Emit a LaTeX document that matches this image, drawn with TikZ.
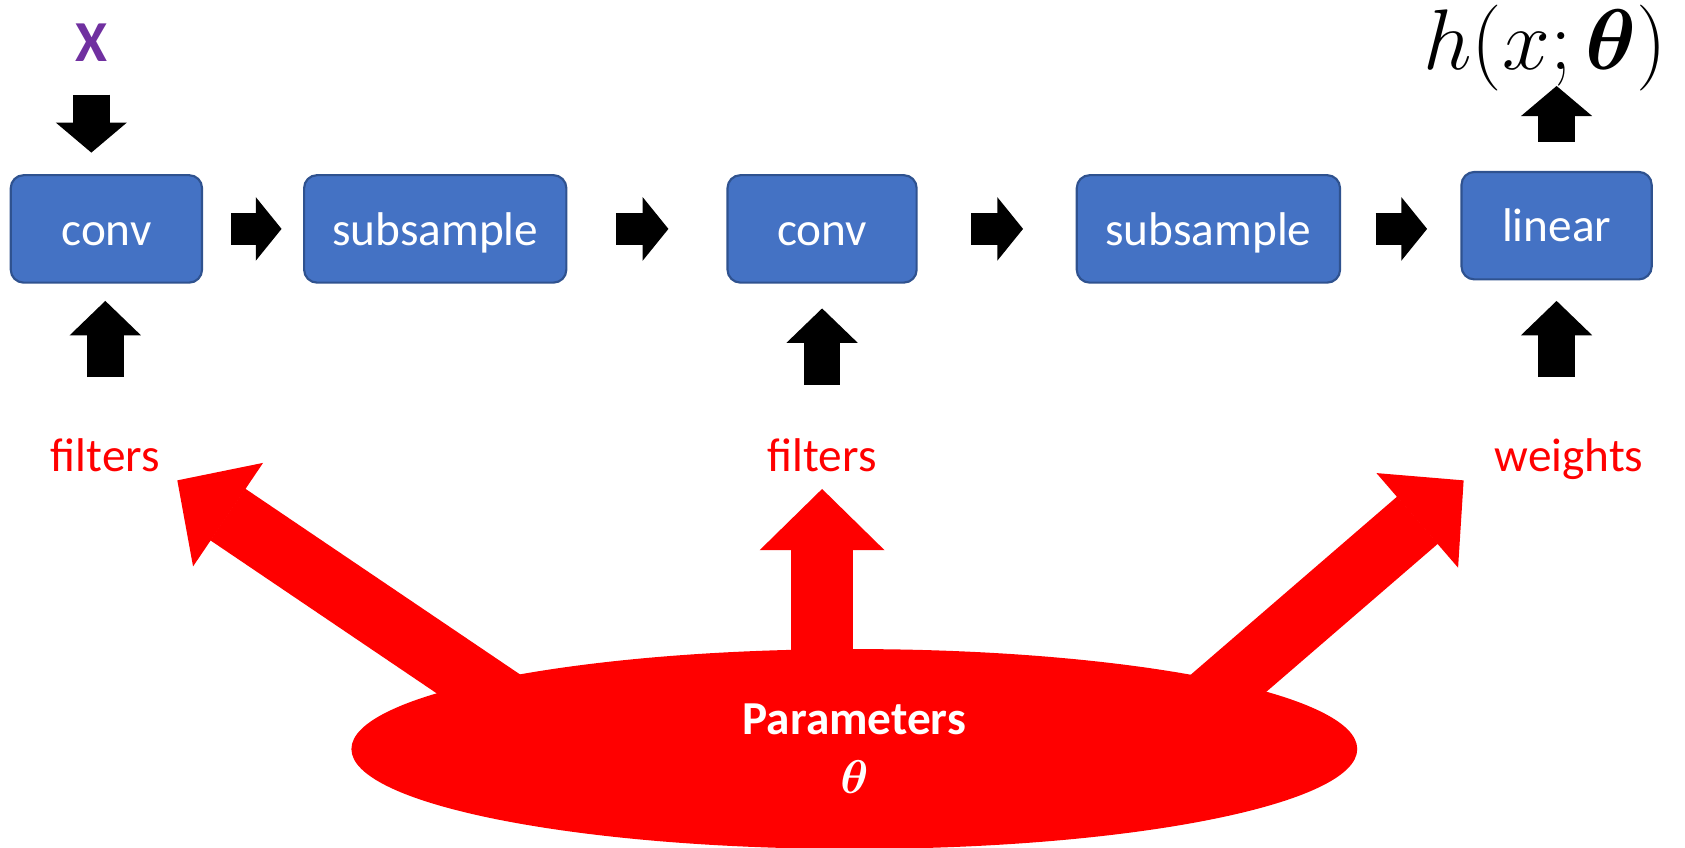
\documentclass[tikz,border=0pt]{standalone}
\usepackage{fix-cm}
\usepackage{amsmath}
\usepackage{fontspec}
\setmainfont{Carlito}
\usetikzlibrary{arrows.meta,shapes.geometric,calc}

\definecolor{boxblue}{HTML}{4472C4}
\definecolor{boxedge}{HTML}{2F528F}
\definecolor{inpurple}{HTML}{7030A0}

\tikzset{
  layer/.style={draw=boxedge, line width=1pt, fill=boxblue, rounded corners=6pt,
    text=white, font=\fontsize{22}{26}\selectfont, minimum height=50pt,
    text height=19pt, text depth=4pt, inner sep=0pt},
  paramlabel/.style={text=red, font=\fontsize{22}{26}\selectfont, anchor=base, inner sep=0pt},
  vflow/.style={line width=17pt, -{Triangle[length=16pt,width=33pt,line width=0.8pt]}},
  vflowtop/.style={line width=17pt, -{Triangle[length=14pt,width=33pt,line width=0.8pt]}},
  hflow/.style={line width=15pt, -{Triangle[length=12pt,width=29.5pt,line width=0.8pt]}},
  redflow/.style={red, line width=29pt, -{Triangle[length=28.5pt,width=58pt,line width=0.8pt]}}
}

\begin{document}
\begin{tikzpicture}[x=0.5pt,y=-0.5pt]
\useasboundingbox (0,0) rectangle (1568,789);

% processing layers
\node[layer, minimum width=89pt]    (conv1) at (99,213)    {conv};
\node[layer, minimum width=122pt]   (sub1)  at (405,213)   {subsample};
\node[layer, minimum width=88pt]    (conv2) at (765,213)   {conv};
\node[layer, minimum width=122.5pt] (sub2)  at (1124.5,213) {subsample};
\node[layer, minimum width=88.5pt]  (lin)   at (1448.5,210) {linear};

% input and output
\node[text=inpurple, font=\fontsize{27}{30}\selectfont\bfseries, anchor=base, inner sep=0pt] (xin) at (85,57) {X};
\node[font=\fontsize{40}{44}\selectfont, anchor=base, inner sep=0pt] (out) at (1438,65) {$h(x;\boldsymbol{\theta})$};

% parameter labels
\node[paramlabel] (f1)  at (98,439)   {filters};
\node[paramlabel] (f2)  at (765,439)  {filters};
\node[paramlabel] (wts) at (1460,439) {weights};

% parameter pool
\node[ellipse, fill=red, minimum width=468pt, minimum height=93pt, inner sep=0pt,
      text=white, align=center, font=\fontsize{22}{27.5}\selectfont] (params) at (795,697)
      {\textbf{Parameters}\\$\boldsymbol{\theta}$};

% data flow between layers
\draw[vflowtop, shorten <=15.5pt, shorten >=10pt] (xin.base) -- (xin.base |- conv1.north);
\draw[hflow, shorten <=13pt, shorten >=10pt] (conv1.east) -- (sub1.west);
\draw[hflow, shorten <=22.5pt, shorten >=27pt] (sub1.east) -- (conv2.west);
\draw[hflow, shorten <=25pt, shorten >=24.5pt] (conv2.east) -- (sub2.west);
\draw[hflow, shorten <=16pt, shorten >=15.5pt] (sub2.east) -- (sub2.east -| lin.west);
\draw[vflowtop, shorten <=13.5pt, shorten >=7.5pt] (lin.north) -- (lin.north |- out.base);

% parameters feeding the layers
\draw[vflow, shorten <=44pt, shorten >=8pt] (f1.base) -- (f1.base |- conv1.south);
\draw[vflow, shorten <=40.5pt, shorten >=11.5pt] (f2.base) -- (f2.base |- conv2.south);
\draw[vflow, shorten <=44pt, shorten >=9.5pt] (lin.south |- wts.base) -- (lin.south);

% parameters distributed from the pool
\coordinate (tipL) at ([shift={(67,8)}]f1.base);
\coordinate (tipR) at ([shift={(-98,8)}]wts.base);
\draw[redflow] ([shift={(-309,-33)}]params.center) -- (tipL);
\draw[redflow, shorten >=8pt] ([shift={(-30,-57)}]params.center) -- (f2.base);
\draw[redflow] ([shift={(297,-17)}]params.center) -- (tipR);
\end{tikzpicture}
\end{document}
